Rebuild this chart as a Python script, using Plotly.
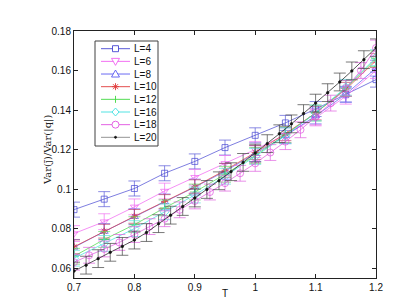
import plotly.graph_objects as go

# ---------------- data ----------------
T_coarse = [0.70, 0.75, 0.80, 0.85, 0.90, 0.95, 1.00, 1.05, 1.10, 1.15, 1.20]
T_L18 = [0.700, 0.725, 0.750, 0.775, 0.800, 0.825, 0.850, 0.875, 0.900, 0.925, 0.950,
         0.975, 1.000, 1.025, 1.050, 1.075, 1.100, 1.125, 1.150, 1.175, 1.200]
T_L20 = [0.70, 0.72, 0.74, 0.76, 0.78, 0.80, 0.82, 0.84, 0.86, 0.88, 0.90, 0.92, 0.94,
         0.96, 0.98, 1.00, 1.02, 1.04, 1.06, 1.08, 1.10, 1.12, 1.14, 1.16, 1.18, 1.20]

var_L4 = [0.0896, 0.0949, 0.1003, 0.1080, 0.1140, 0.1210, 0.1272, 0.1335, 0.1405, 0.1478, 0.1554]
var_L6 = [0.0775, 0.0835, 0.0910, 0.0990, 0.1060, 0.1130, 0.1200, 0.1275, 0.1360, 0.1470, 0.1600]
var_L8 = [0.0705, 0.0785, 0.0860, 0.0935, 0.1010, 0.1090, 0.1180, 0.1270, 0.1370, 0.1480, 0.1612]
var_L10 = [0.0708, 0.0787, 0.0862, 0.0937, 0.1012, 0.1095, 0.1185, 0.1280, 0.1385, 0.1505, 0.1650]
var_L12 = [0.0660, 0.0745, 0.0820, 0.0905, 0.0985, 0.1075, 0.1170, 0.1275, 0.1385, 0.1510, 0.1660]
var_L16 = [0.0650, 0.0725, 0.0800, 0.0885, 0.0970, 0.1065, 0.1165, 0.1270, 0.1385, 0.1515, 0.1665]
var_L18 = [0.0630, 0.0665, 0.0697, 0.0730, 0.0770, 0.0810, 0.0850, 0.0895, 0.0940, 0.0985, 0.1030,
           0.1080, 0.1130, 0.1185, 0.1240, 0.1300, 0.1365, 0.1435, 0.1510, 0.1600, 0.1714]
var_L20 = [0.0585, 0.0615, 0.0648, 0.0680, 0.0710, 0.0742, 0.0780, 0.0825, 0.0868, 0.0912,
           0.0955, 0.0998, 0.1042, 0.1088, 0.1135, 0.1182, 0.1230, 0.1280, 0.1330, 0.1382,
           0.1435, 0.1488, 0.1542, 0.1598, 0.1655, 0.1715]

labels = ["L=4", "L=6", "L=8", "L=10", "L=12", "L=16", "L=18", "L=20"]
err_sizes = [0.0038, 0.0040, 0.0040, 0.0035, 0.0040, 0.0040, 0.0040, 0.0045]

x_ticks = [0.7, 0.8, 0.9, 1.0, 1.1, 1.2]
y_ticks = [0.06, 0.08, 0.10, 0.12, 0.14, 0.16, 0.18]

# ---------------- styles ----------------
xs = [T_coarse] * 6 + [T_L18, T_L20]
ys = [var_L4, var_L6, var_L8, var_L10, var_L12, var_L16, var_L18, var_L20]
colors = ["#4646d2", "#f060f0", "#5858f0", "#e03a3a", "#40d840", "#40e0e0", "#e050e0", "#111111"]
err_colors = ["#5a5ad8", "#f070f0", "#6a6af0", "#c04060", "#60d860", "#60e0e0", "#e060e0", "#404040"]
symbols = ["square-open", "triangle-down-open", "triangle-up-open", "asterisk-open",
           "cross-thin-open", "diamond-open", "circle-open", "circle"]
msizes = [6, 7, 7, 6, 7, 7, 7, 2.5]

fig = go.Figure()
for x, y, c, ec, s, m, e, lab in zip(xs, ys, colors, err_colors, symbols, msizes, err_sizes, labels):
    fig.add_trace(go.Scatter(
        x=x, y=y, mode="lines+markers", name=lab, showlegend=False,
        line=dict(color=c, width=0.7),
        marker=dict(symbol=s, size=m, color=c, line=dict(color=c, width=0.7)),
        error_y=dict(type="constant", value=e, color=ec, thickness=0.7, width=6),
    ))

# ---------------- manual legend (pixel layout of the reference) ----------------
PL, PR, PT, PB = 66, 368, 23, 270


def X(px):
    return (px - PL) / (PR - PL)


def Y(py):
    return (PB - py) / (PB - PT)


shapes = []
annotations = []
shapes.append(dict(type="rect", xref="paper", yref="paper", x0=X(87), x1=X(150), y0=Y(33), y1=Y(138),
                   line=dict(color="#404040", width=1), fillcolor="white", layer="above"))
cx = 107.5
for i, (lab, c, s) in enumerate(zip(labels, colors, symbols)):
    cy = 40.7 + i * 12.66
    lc = "#888888" if lab == "L=20" else c
    shapes.append(dict(type="line", xref="paper", yref="paper", x0=X(93), x1=X(122), y0=Y(cy), y1=Y(cy),
                       line=dict(color=lc, width=0.9), layer="above"))
    ln = dict(color=c, width=0.9)
    if s == "square-open":
        shapes.append(dict(type="rect", xref="paper", yref="paper", x0=X(cx - 3), x1=X(cx + 3),
                           y0=Y(cy - 3), y1=Y(cy + 3), line=ln, fillcolor="white", layer="above"))
    elif s == "triangle-down-open":
        p = f"M{X(cx-4)},{Y(cy-3)} L{X(cx+4)},{Y(cy-3)} L{X(cx)},{Y(cy+4)} Z"
        shapes.append(dict(type="path", xref="paper", yref="paper", path=p, line=ln,
                           fillcolor="white", layer="above"))
    elif s == "triangle-up-open":
        p = f"M{X(cx-4)},{Y(cy+3)} L{X(cx+4)},{Y(cy+3)} L{X(cx)},{Y(cy-4)} Z"
        shapes.append(dict(type="path", xref="paper", yref="paper", path=p, line=ln,
                           fillcolor="white", layer="above"))
    elif s == "asterisk-open":
        for dx, dy in [(0, 3.5), (3.5, 0), (2.5, 2.5), (2.5, -2.5)]:
            shapes.append(dict(type="line", xref="paper", yref="paper", x0=X(cx - dx), x1=X(cx + dx),
                               y0=Y(cy - dy), y1=Y(cy + dy), line=ln, layer="above"))
    elif s == "cross-thin-open":
        shapes.append(dict(type="line", xref="paper", yref="paper", x0=X(cx), x1=X(cx),
                           y0=Y(cy - 3.5), y1=Y(cy + 3.5), line=ln, layer="above"))
    elif s == "diamond-open":
        p = (f"M{X(cx)},{Y(cy-4)} L{X(cx+3.5)},{Y(cy)} L{X(cx)},{Y(cy+4)} "
             f"L{X(cx-3.5)},{Y(cy)} Z")
        shapes.append(dict(type="path", xref="paper", yref="paper", path=p, line=ln,
                           fillcolor="white", layer="above"))
    elif s == "circle-open":
        shapes.append(dict(type="circle", xref="paper", yref="paper", x0=X(cx - 3.5), x1=X(cx + 3.5),
                           y0=Y(cy - 3.5), y1=Y(cy + 3.5), line=ln, fillcolor="white", layer="above"))
    else:
        shapes.append(dict(type="circle", xref="paper", yref="paper", x0=X(cx - 1), x1=X(cx + 1),
                           y0=Y(cy - 1), y1=Y(cy + 1), line=ln, fillcolor=c, layer="above"))
    annotations.append(dict(text=lab, xref="paper", yref="paper", x=X(124), y=Y(cy),
                            xanchor="left", yanchor="middle", showarrow=False,
                            font=dict(family="Liberation Sans, Arial", size=10, color="#111111")))

# axis titles placed as in the reference
annotations.append(dict(text="Var(j\u0304)/Var(|q|)", xref="paper", yref="paper", x=X(40), y=Y(142),
                        xanchor="center", yanchor="middle", textangle=-90, showarrow=False,
                        font=dict(family="DejaVu Serif, Liberation Serif", size=10, color="#222222")))
annotations.append(dict(text="T", xref="paper", yref="paper", x=X(217), y=Y(285),
                        xanchor="center", yanchor="middle", showarrow=False,
                        font=dict(family="Liberation Sans, Arial", size=10, color="#111111")))

axis_common = dict(showgrid=False, zeroline=False, showline=True, linecolor="#222222", linewidth=1,
                   mirror="ticks", ticks="inside", ticklen=4, tickcolor="#222222",
                   tickfont=dict(family="Liberation Sans, Arial", size=10, color="#111111"))

fig.update_layout(
    width=407, height=305,
    margin=dict(l=PL, r=407 - PR, t=PT, b=305 - PB),
    paper_bgcolor="white", plot_bgcolor="white",
    showlegend=False,
    xaxis=dict(range=[0.7, 1.2], tickvals=x_ticks, ticktext=["0.7", "0.8", "0.9", "1", "1.1", "1.2"],
               **axis_common),
    yaxis=dict(range=[0.055, 0.18], tickvals=y_ticks,
               ticktext=["0.06", "0.08", "0.1", "0.12", "0.14", "0.16", "0.18"],
               **axis_common),
    shapes=shapes,
    annotations=annotations,
)

fig.write_html("out.html")
